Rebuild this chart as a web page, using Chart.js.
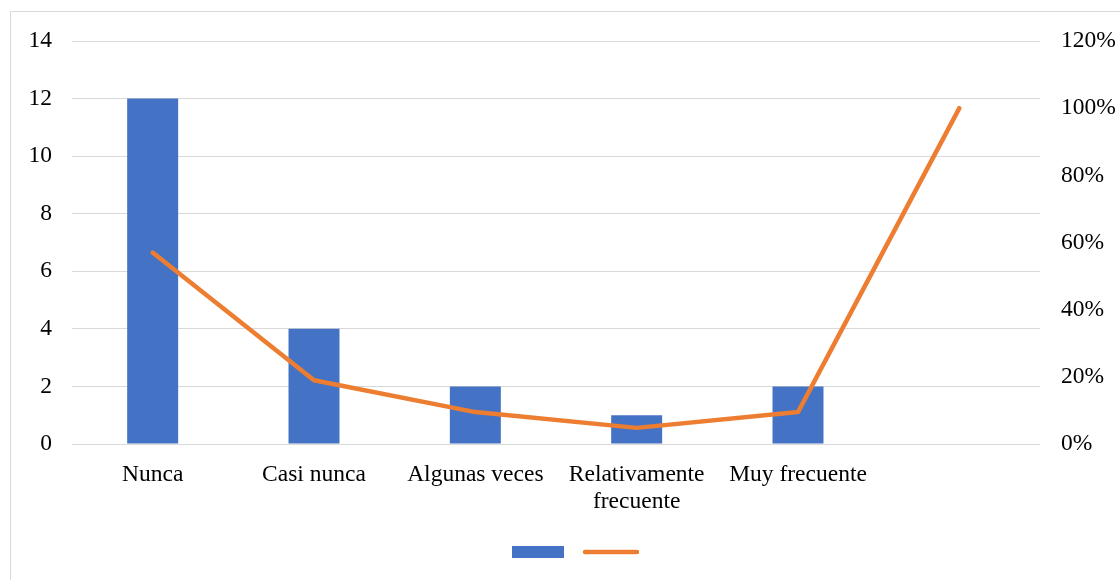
<!DOCTYPE html>
<html>
<head>
<meta charset="utf-8">
<script src="https://cdn.jsdelivr.net/npm/chart.js@4"></script>
<style>
  body { margin: 0; background: #fff; }
  .frame {
    position: absolute; left: 10px; top: 11px;
    width: 1200px; height: 700px;
    border: 1px solid #d9d9d9;
  }
  canvas { position: absolute; left: 0; top: 0; }
</style>
</head>
<body>
<div class="frame"></div>
<canvas id="chart" width="1120" height="580"></canvas>
<script>
// data
const categories = ['Nunca', 'Casi nunca', 'Algunas veces', ['Relativamente', 'frecuente'], 'Muy frecuente', ''];
const counts = [12, 4, 2, 1, 2, null];
const cumulativePct = [57, 19, 9.5, 4.8, 9.5, 100];
const leftTicks = [0, 2, 4, 6, 8, 10, 12, 14];
const rightTicks = [0, 20, 40, 60, 80, 100, 120];

const BLUE = '#4472C4';
const ORANGE = '#ED7D31';
const GRID = '#d9d9d9';
const FONT = { family: '"Liberation Serif", "Times New Roman", serif', size: 23.5, lineHeight: 1.15 };

new Chart(document.getElementById('chart'), {
  data: {
    labels: categories,
    datasets: [
      {
        type: 'bar',
        data: counts,
        backgroundColor: BLUE,
        yAxisID: 'y',
        barPercentage: 0.316,
        categoryPercentage: 1,
        order: 1
      },
      {
        type: 'line',
        data: cumulativePct,
        borderColor: ORANGE,
        backgroundColor: ORANGE,
        borderWidth: 4.5,
        borderCapStyle: 'round',
        borderJoinStyle: 'round',
        pointRadius: 0,
        tension: 0,
        yAxisID: 'y1',
        order: 0
      }
    ]
  },
  options: {
    responsive: false,
    animation: false,
    // negative right padding pushes the centred legend to where Excel put it
    layout: { padding: { top: 41, left: 0, right: -35, bottom: 12 } },
    plugins: {
      tooltip: { enabled: false },
      legend: {
        position: 'bottom',
        labels: {
          usePointStyle: true,
          pointStyleWidth: 52,
          boxWidth: 52,
          boxHeight: 12,
          padding: 15,
          font: { size: 12 },
          generateLabels: chart => [
            { text: '', fillStyle: BLUE, strokeStyle: BLUE, lineWidth: 0, pointStyle: 'rect', datasetIndex: 0 },
            { text: '', fillStyle: ORANGE, strokeStyle: ORANGE, lineWidth: 4.5, lineCap: 'round', pointStyle: 'line', datasetIndex: 1 }
          ]
        }
      }
    },
    scales: {
      x: {
        grid: { display: false },
        border: { display: false },
        ticks: { color: '#000', font: FONT, padding: 9, maxRotation: 0, autoSkip: false },
        afterFit: s => { s.height = 87; }
      },
      y: {
        position: 'left',
        min: 0, max: 14,
        afterBuildTicks: s => { s.ticks = leftTicks.map(v => ({ value: v })); },
        grid: { color: GRID, lineWidth: 1, drawTicks: false },
        border: { display: false },
        ticks: { color: '#000', font: FONT, padding: 20 },
        afterFit: s => { s.width = 72; }
      },
      y1: {
        position: 'right',
        min: 0, max: 120,
        afterBuildTicks: s => { s.ticks = rightTicks.map(v => ({ value: v })); },
        grid: { display: false, drawTicks: false },
        border: { display: false },
        ticks: { color: '#000', font: FONT, padding: 21, callback: v => v + '%' },
        afterFit: s => { s.width = 115; }
      }
    }
  }
});
</script>
</body>
</html>
